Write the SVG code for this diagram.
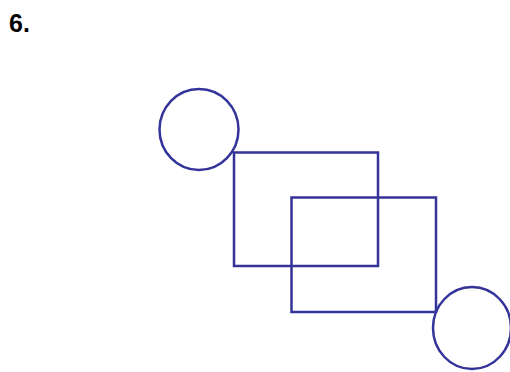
<svg xmlns="http://www.w3.org/2000/svg" width="510" height="372" viewBox="0 0 510 372">
<style>
.s{fill:none;stroke:#333399;stroke-width:2.5}
.t{font-family:"Liberation Sans",Arial,sans-serif;font-weight:bold;font-size:25px;fill:#000}
</style>
<rect width="510" height="372" fill="#fff"/>
<text class="t" x="9" y="32">6.</text>
<g id="circle1"><ellipse class="s" cx="199" cy="129.5" rx="39.5" ry="40.5"/></g>
<g id="rect1"><rect class="s" x="234" y="152.5" width="144" height="113.5"/></g>
<g id="rect2"><rect class="s" x="291.5" y="197.5" width="144.5" height="114.5"/></g>
<g id="circle2"><ellipse class="s" cx="472" cy="328" rx="39" ry="41"/></g>
<g id="connectors"></g>
</svg>
